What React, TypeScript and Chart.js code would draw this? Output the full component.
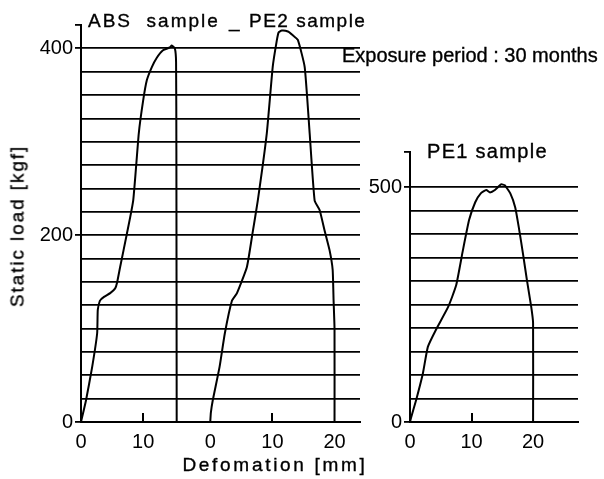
import React, { useEffect, useRef } from 'react';
import Chart from 'chart.js/auto';

// ABS sample (deformation mm, static load kgf)
const absDeformation = [0, 0.8, 1.8, 2.6, 2.7, 3.05, 3.7, 4.7, 5.5, 5.8, 6.3, 7.4, 8.4, 9.3, 10.0, 10.6, 11.4, 12.2, 13.2, 14.3, 14.6, 15.1, 15.3, 15.35, 15.4];
const absLoad = [0, 23, 59, 95, 120, 130, 134, 138, 143, 149, 166, 202, 237, 309, 344, 366, 380, 390, 398, 401, 403, 400, 385, 290, 0];

// PE2 sample
const pe2Deformation = [0, 0.1, 0.4, 1.5, 2.35, 3.5, 4.3, 5.9, 6.8, 7.65, 9.1, 10.05, 10.7, 11.0, 11.5, 12.5, 13.3, 14.1, 15.2, 16.0, 16.8, 17.6, 18.4, 19.2, 19.7, 19.85, 20.0, 20.0];
const pe2Load = [0, 10, 23, 59, 95, 130, 138, 166, 202, 237, 309, 380, 408, 417, 419, 418, 414, 409, 380, 309, 237, 227, 205, 184, 163, 130, 100, 0];

// PE1 sample
const pe1Deformation = [0, 0.15, 1.0, 2.1, 2.9, 4.2, 6.2, 7.5, 8.6, 9.6, 10.6, 11.5, 12.4, 13.0, 13.8, 14.8, 15.4, 16.3, 17.1, 17.7, 18.4, 19.0, 19.7, 20.0, 20.0];
const pe1Load = [0, 8, 47, 104, 160, 196, 245, 291, 366, 430, 468, 487, 494, 489, 494, 506, 504, 487, 457, 413, 355, 302, 245, 211, 0];

// Tick labels
const absXTicks = [0, 10];
const pe2XTicks = [0, 10, 20];
const pe1XTicks = [0, 10, 20];
const leftYTicks = [0, 200, 400];
const pe1YTicks = [0, 500];

const PE2_SHIFT = 20.8;
const FONT = "'Liberation Sans', Arial, Helvetica, sans-serif";
const CLEAR = 'rgba(0,0,0,0)';

function pts(xs: number[], ys: number[], shift = 0) {
  return xs.map((x, i) => ({ x: x + shift, y: ys[i] }));
}

const innerTicks = {
  id: 'innerTicks',
  afterDraw(chart: any, _args: any, opts: any) {
    const { ctx, chartArea, scales } = chart;
    const xs = scales.x;
    ctx.save();
    ctx.strokeStyle = '#000';
    ctx.lineWidth = 2;
    (opts.values || []).forEach((v: number) => {
      const px = Math.round(xs.getPixelForValue(v));
      ctx.beginPath();
      ctx.moveTo(px, chartArea.bottom);
      ctx.lineTo(px, chartArea.bottom - 9);
      ctx.stroke();
    });
    ctx.restore();
  },
};

const lineStyle = {
  borderColor: '#000',
  borderWidth: 2,
  pointRadius: 0,
  tension: 0.15,
  fill: false,
};

export default function App() {
  const leftRef = useRef<HTMLCanvasElement>(null);
  const rightRef = useRef<HTMLCanvasElement>(null);

  useEffect(() => {
    const tickFont = { family: FONT, size: 20 };
    const left = new Chart(leftRef.current!, {
      type: 'line',
      data: {
        datasets: [
          { ...lineStyle, data: pts(absDeformation, absLoad) },
          { ...lineStyle, data: pts(pe2Deformation, pe2Load, PE2_SHIFT) },
        ],
      },
      options: {
        animation: false,
        responsive: false,
        layout: { padding: { top: 25, right: 12, left: 0, bottom: 0 } },
        plugins: {
          legend: { display: false },
          tooltip: { enabled: false },
          innerTicks: { values: [10, 10 + PE2_SHIFT] },
        } as any,
        scales: {
          x: {
            type: 'linear',
            min: 0,
            max: 44.9,
            afterBuildTicks: (s: any) => {
              s.ticks = [
                ...absXTicks.map((v) => ({ value: v })),
                ...pe2XTicks.map((v) => ({ value: v + PE2_SHIFT })),
              ];
            },
            afterFit: (s: any) => { s.height = 57; },
            ticks: {
              autoSkip: false,
              maxRotation: 0,
              color: '#000',
              font: tickFont,
              padding: 8,
              callback: (v: any) => {
                const n = Number(v);
                return String(Math.round(n >= PE2_SHIFT - 0.01 ? n - PE2_SHIFT : n));
              },
            },
            grid: { drawOnChartArea: false, drawTicks: false },
            border: { display: true, color: '#000', width: 2 },
          },
          y: {
            min: 0,
            max: 425,
            afterFit: (s: any) => { s.width = 81; },
            ticks: {
              stepSize: 25,
              maxTicksLimit: 100,
              autoSkip: false,
              color: '#000',
              font: tickFont,
              padding: 2,
              callback: (v: any) => (leftYTicks.includes(Number(v)) ? String(v) : ''),
            },
            grid: {
              color: (c: any) => (c.tick && c.tick.value >= 425 ? CLEAR : '#000'),
              lineWidth: 1.8,
              tickLength: 6,
              tickColor: (c: any) =>
                c.tick && (leftYTicks.includes(c.tick.value) || c.tick.value >= 425) ? '#000' : CLEAR,
            },
            border: { display: true, color: '#000', width: 2 },
          },
        },
      },
      plugins: [innerTicks],
    } as any);

    const right = new Chart(rightRef.current!, {
      type: 'line',
      data: {
        datasets: [{ ...lineStyle, data: pts(pe1Deformation, pe1Load) }],
      },
      options: {
        animation: false,
        responsive: false,
        layout: { padding: { top: 152, right: 26, left: 0, bottom: 0 } },
        plugins: {
          legend: { display: false },
          tooltip: { enabled: false },
          innerTicks: { values: [10] },
        } as any,
        scales: {
          x: {
            type: 'linear',
            min: 0,
            max: 27.3,
            afterBuildTicks: (s: any) => {
              s.ticks = pe1XTicks.map((v) => ({ value: v }));
            },
            afterFit: (s: any) => { s.height = 57; },
            ticks: {
              autoSkip: false,
              maxRotation: 0,
              color: '#000',
              font: tickFont,
              padding: 8,
              callback: (v: any) => String(v),
            },
            grid: { drawOnChartArea: false, drawTicks: false },
            border: { display: true, color: '#000', width: 2 },
          },
          y: {
            min: 0,
            max: 575,
            afterFit: (s: any) => { s.width = 70; },
            ticks: {
              stepSize: 50,
              maxTicksLimit: 100,
              autoSkip: false,
              color: '#000',
              font: tickFont,
              padding: 2,
              callback: (v: any) => (pe1YTicks.includes(Number(v)) ? String(v) : ''),
            },
            grid: {
              color: (c: any) => (c.tick && c.tick.value >= 575 ? CLEAR : '#000'),
              lineWidth: 1.8,
              tickLength: 6,
              tickColor: (c: any) =>
                c.tick && (pe1YTicks.includes(c.tick.value) || c.tick.value >= 575) ? '#000' : CLEAR,
            },
            border: { display: true, color: '#000', width: 2 },
          },
        },
      },
      plugins: [innerTicks],
    } as any);

    return () => {
      left.destroy();
      right.destroy();
    };
  }, []);

  const txt = (extra: React.CSSProperties): React.CSSProperties => ({
    position: 'absolute',
    fontFamily: FONT,
    color: '#000',
    whiteSpace: 'pre',
    lineHeight: 1,
    WebkitTextStroke: '0.35px #000',
    ...extra,
  });

  return (
    <div style={{ position: 'absolute', left: 0, top: 0, width: 604, height: 479, background: '#fff', overflow: 'hidden' }}>
      <canvas ref={leftRef} width={372} height={479} style={{ position: 'absolute', left: 0, top: 0 }} />
      <canvas ref={rightRef} width={264} height={479} style={{ position: 'absolute', left: 340, top: 0 }} />
      <div style={txt({ left: 88, top: 11, fontSize: 19, letterSpacing: 2 })}>{'ABS  sample'}</div>
      <div style={txt({ left: 229, top: 11, fontSize: 19 })}>{'_'}</div>
      <div style={txt({ left: 249, top: 11, fontSize: 19, letterSpacing: 1.5 })}>{'PE2 sample'}</div>
      <div style={txt({ left: 342, top: 45, fontSize: 20 })}>{'Exposure period : 30 months'}</div>
      <div style={txt({ left: 427, top: 141, fontSize: 20, letterSpacing: 1.3 })}>{'PE1 sample'}</div>
      <div
        style={txt({
          left: 17,
          top: 226,
          fontSize: 19,
          letterSpacing: 1.9,
          transform: 'translate(-50%, -50%) rotate(-90deg)',
        })}
      >
        {'Static load [kgf]'}
      </div>
      <div style={txt({ left: 275, top: 464, fontSize: 19, letterSpacing: 2.7, transform: 'translate(-50%, -50%)' })}>
        {'Defomation [mm]'}
      </div>
    </div>
  );
}
